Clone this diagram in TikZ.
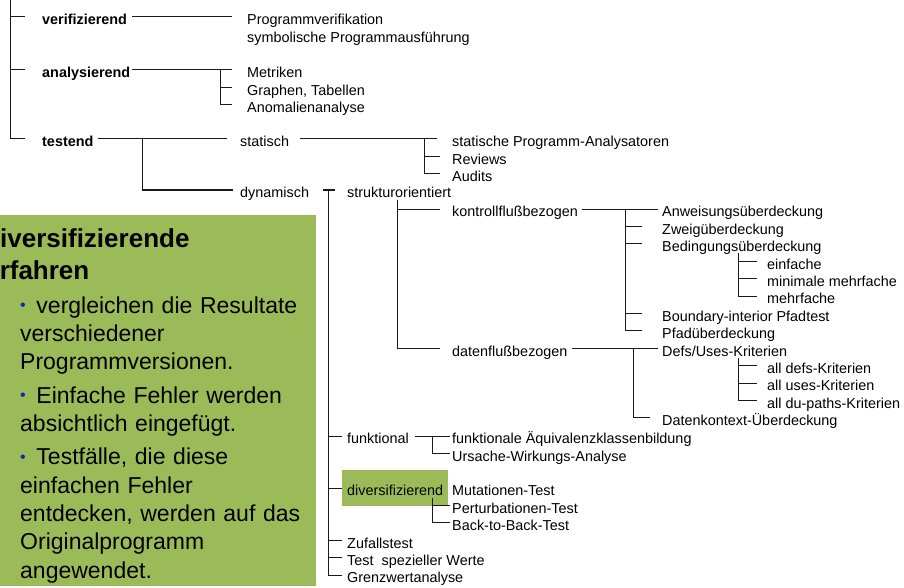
\documentclass[tikz,border=0pt]{standalone}
\usepackage{fontspec}
\setmainfont{Liberation Sans}
\usepackage{xcolor}
\definecolor{boxGreen}{RGB}{155,187,89}
\definecolor{bulletBlue}{RGB}{10,40,170}
\tikzset{
  lbl/.style={anchor=west,inner sep=0pt,text height=17.3pt,text depth=1.4pt,font=\fontsize{14.4}{17}\selectfont},
  hd/.style={lbl,font=\fontsize{14.4}{17}\selectfont\bfseries},
  tree/.style={line width=1pt,black!90}
}
\newcommand{\blt}{\raisebox{2.5pt}{\textcolor{bulletBlue}{\fontsize{16}{16}\selectfont•}}\hspace{3pt} }

\begin{document}
\begin{tikzpicture}[x=1pt,y=-1pt]
\useasboundingbox (0,0) rectangle (904,588);
\clip (0,0) rectangle (904,588);

% Kasten links
\fill[boxGreen] (0,215) rectangle (316,586);
\node[anchor=base west,inner sep=0pt,font=\fontsize{26}{32}\selectfont\bfseries] (tt1) at (-18.8,247) {Diversifizierende};
\node[anchor=base west,inner sep=0pt,font=\fontsize{26}{32}\selectfont\bfseries] (tt2) at (-30.8,279) {Verfahren};
\node[anchor=base west,inner sep=0pt,text width=300pt,align=left,font=\fontsize{23}{28.4}\selectfont] (txt) at (20,313) {%
\blt vergleichen die Resultate\\verschiedener\\Programmversionen.\\[4.8pt]
\blt Einfache Fehler werden\\absichtlich eingefügt.\\[4.8pt]
\blt Testfälle, die diese\\einfachen Fehler\\entdecken, werden auf das\\Originalprogramm\\angewendet.};

% Ebene 1
\coordinate (top) at (10,0);
\node[hd] (ver) at (42,17) {verifizierend};
\node[hd] (ana) at (42,70) {analysierend};
\node[hd] (tst) at (42,139) {testend};

% Ebene 2
\node[lbl] (pv) at (247,17) {Programmverifikation};
\node[lbl] (spa) at (247,34.4) {symbolische Programmausführung};
\node[lbl] (met) at (247,70) {Metriken};
\node[lbl] (gra) at (247,87.4) {Graphen, Tabellen};
\node[lbl] (ano) at (247,104.8) {Anomalienanalyse};
\node[lbl] (sta) at (240,139) {statisch};
\node[lbl] (dyn) at (240,190) {dynamisch};

% statisch
\node[lbl] (spn) at (452,139) {statische Programm-Analysatoren};
\node[lbl] (rev) at (452,156.4) {Reviews};
\node[lbl] (aud) at (452,173.8) {Audits};

% dynamisch
\node[lbl] (str) at (347,190) {strukturorientiert};
\node[lbl] (kfb) at (452,209) {kontrollflußbezogen};
\node[lbl] (dfb) at (452,348.2) {datenflußbezogen};
\node[lbl] (anw) at (662,209) {Anweisungsüberdeckung};
\node[lbl] (zwe) at (662,226.4) {Zweigüberdeckung};
\node[lbl] (bed) at (662,243.8) {Bedingungsüberdeckung};
\node[lbl] (ein) at (767,261.2) {einfache};
\node[lbl] (min) at (767,278.6) {minimale mehrfache};
\node[lbl] (meh) at (767,296) {mehrfache};
\node[lbl] (bou) at (662,313.4) {Boundary-interior Pfadtest};
\node[lbl] (pfa) at (662,330.8) {Pfadüberdeckung};
\node[lbl] (def) at (662,348.2) {Defs/Uses-Kriterien};
\node[lbl] (ade) at (767,365.6) {all defs-Kriterien};
\node[lbl] (aus) at (767,383) {all uses-Kriterien};
\node[lbl] (adu) at (767,400.4) {all du-paths-Kriterien};
\node[lbl] (dko) at (662,417.8) {Datenkontext-Überdeckung};
\node[lbl] (fkt) at (347,436) {funktional};
\node[lbl] (fae) at (452,436) {funktionale Äquivalenzklassenbildung};
\node[lbl] (urs) at (452,453.4) {Ursache-Wirkungs-Analyse};
\node[lbl,fill=boxGreen,inner xsep=5pt,inner ysep=8.2pt] (div) at (342,488) {diversifizierend};
\node[lbl] (mut) at (452,488) {Mutationen-Test};
\node[lbl] (per) at (452,505.4) {Perturbationen-Test};
\node[lbl] (btb) at (452,522.8) {Back-to-Back-Test};
\node[lbl] (zuf) at (347,540.2) {Zufallstest};
\node[lbl] (tsw) at (347,557.6) {Test~ spezieller Werte};
\node[lbl] (grz) at (347,575) {Grenzwertanalyse};

% Linien
\draw[tree] (top) |- ([xshift=-17pt]tst.west);
\draw[tree] (top |- ver.west) -- ([xshift=-17pt]ver.west);
\draw[tree] (top |- ana.west) -- ([xshift=-17pt]ana.west);
\draw[tree] ([xshift=5pt]ver.east) -- ([xshift=-15pt]pv.west);
\draw[tree] ([xshift=2pt]ana.east) -- ([xshift=-15pt]met.west);
\draw[tree] ([xshift=-27pt]met.west) |- ([xshift=-15pt]ano.west);
\draw[tree] ([xshift=-27pt]gra.west) -- ([xshift=-15pt]gra.west);
\draw[tree] ([xshift=4pt]tst.east) -- ([xshift=-13pt]sta.west);
\draw[tree] ([xshift=-98pt]sta.west) |- ([xshift=-7pt]dyn.west);
\draw[tree] ([xshift=11pt]sta.east) -- ([xshift=-15pt]spn.west);
\draw[tree] ([xshift=-28pt]spn.west) |- ([xshift=-12pt]aud.west);
\draw[tree] ([xshift=-28pt]rev.west) -- ([xshift=-12pt]rev.west);
\draw[tree] ([xshift=14pt]dyn.east) -- ([xshift=-12pt]str.west);
\draw[tree] ([xshift=-19pt]str.west) |- ([xshift=-5pt]grz.west);
\foreach \n in {fkt,zuf,tsw}
  \draw[tree] ([xshift=-19pt]\n.west) -- ([xshift=-5pt]\n.west);
\draw[tree] ([xshift=-14pt]div.west) -- (div.west);
\draw[tree] ([xshift=50pt]str.south west) |- ([xshift=-12pt]dfb.west);
\draw[tree] ([xshift=-55pt]kfb.west) -- ([xshift=-12pt]kfb.west);
\draw[tree] ([xshift=4pt]kfb.east) -- ([xshift=-4pt]anw.west);
\draw[tree] ([xshift=-37pt]anw.west) |- ([xshift=-20pt]pfa.west);
\foreach \n in {zwe,bed,bou}
  \draw[tree] ([xshift=-37pt]\n.west) -- ([xshift=-20pt]\n.west);
\draw[tree] ([xshift=76pt]bed.south west) |- ([xshift=-10pt]meh.west);
\foreach \n in {ein,min}
  \draw[tree] ([xshift=-29pt]\n.west) -- ([xshift=-10pt]\n.west);
\draw[tree] ([xshift=4pt]dfb.east) -- ([xshift=-4pt]def.west);
\draw[tree] ([xshift=-29pt]def.west) |- ([xshift=-12pt]dko.west);
\draw[tree] ([xshift=76pt]def.south west) |- ([xshift=-10pt]adu.west);
\foreach \n in {ade,aus}
  \draw[tree] ([xshift=-29pt]\n.west) -- ([xshift=-10pt]\n.west);
\draw[tree] ([xshift=6pt]fkt.east) -- ([xshift=-2pt]fae.west);
\draw[tree] ([xshift=-20pt]fae.west) |- ([xshift=-2pt]urs.west);
\draw[tree] ([xshift=-20pt]mut.south west) |- ([xshift=-2pt]btb.west);
\draw[tree] ([xshift=-20pt]per.west) -- ([xshift=-2pt]per.west);
\end{tikzpicture}
\end{document}
